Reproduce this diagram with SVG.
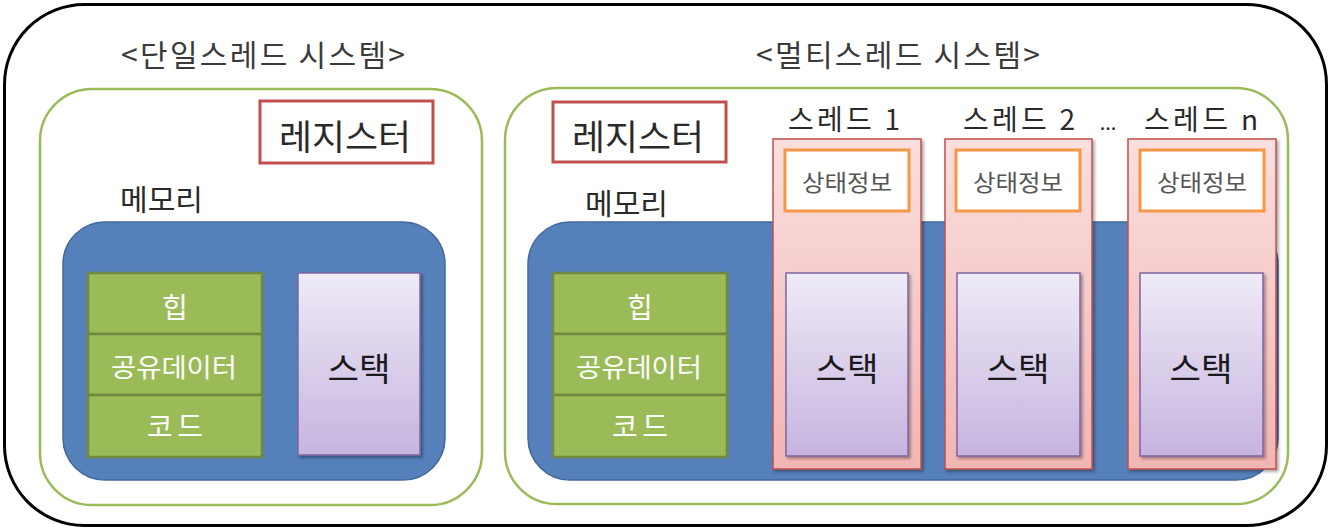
<svg xmlns="http://www.w3.org/2000/svg" width="1342" height="532" viewBox="0 0 1342 532">
<defs>
<linearGradient id="gStack" x1="0" y1="0" x2="0" y2="1">
<stop offset="0" stop-color="#efebf7"/>
<stop offset="1" stop-color="#c6b4df"/>
</linearGradient>
<linearGradient id="gPink" x1="0" y1="0" x2="0" y2="1">
<stop offset="0" stop-color="#f9dfde"/>
<stop offset="1" stop-color="#f2b5b3"/>
</linearGradient>
<filter id="sh" x="-10%" y="-10%" width="130%" height="130%">
<feDropShadow dx="2" dy="2" stdDeviation="1.5" flood-color="#000" flood-opacity="0.35"/>
</filter>
<style>
text{font-family:"Noto Sans CJK KR","Noto Sans",sans-serif;}
.outer{fill:#fff;stroke:#000;stroke-width:3;}
.sys{fill:#fff;stroke:#9bbb59;stroke-width:2.5;}
.mem{fill:#5580b9;stroke:#41689c;stroke-width:1.5;}
.reg{fill:#fff;stroke:#c0504d;stroke-width:3;}
.blk{fill:#9bbb59;stroke:#71893f;stroke-width:2.5;}
.stk{fill:url(#gStack);stroke:#8064a2;stroke-width:1.5;filter:url(#sh);}
.thr{fill:url(#gPink);stroke:#c0504d;stroke-width:1.5;filter:url(#sh);}
.st{fill:#fff;stroke:#f79646;stroke-width:3;}
.title{font-size:30px;fill:#3a3a3a;text-anchor:middle;}
.regt{font-size:35px;fill:#2a2a2a;text-anchor:middle;}
.memt{font-size:29px;fill:#2a2a2a;}
.blkt{font-size:26px;fill:#fff;text-anchor:middle;}
.stkt{font-size:33px;fill:#1a1a1a;text-anchor:middle;}
.stt{font-size:23px;fill:#555;text-anchor:middle;}
.thrt{font-size:28px;fill:#2a2a2a;text-anchor:middle;}
</style>
</defs>

<g id="outer"><rect class="outer" x="4.5" y="4.5" width="1322" height="521" rx="80" ry="80"/></g>

<g id="single-system">
<rect class="sys" x="40" y="89" width="442" height="416" rx="52" ry="52"/>
<text class="title" x="263" y="66" textLength="284" lengthAdjust="spacing">&lt;단일스레드 시스템&gt;</text>
</g>
<g id="single-register">
<rect class="reg" x="260" y="101" width="173" height="62"/>
<text class="regt" x="345" y="150" textLength="132" lengthAdjust="spacingAndGlyphs">레지스터</text>
</g>
<g id="single-memory">
<text class="memt" x="120" y="211" textLength="83" lengthAdjust="spacingAndGlyphs">메모리</text>
<rect class="mem" x="63" y="222" width="382" height="258" rx="42" ry="42"/>
</g>
<g id="single-heap">
<rect class="blk" x="88" y="273" width="174" height="61"/>
<text class="blkt" x="175" y="318" style="font-size:28px">힙</text>
</g>
<g id="single-shared">
<rect class="blk" x="88" y="334" width="174" height="61"/>
<text class="blkt" x="174" y="377" textLength="126" lengthAdjust="spacingAndGlyphs">공유데이터</text>
</g>
<g id="single-code">
<rect class="blk" x="88" y="395" width="174" height="62"/>
<text class="blkt" x="175" y="437" style="font-size:28px" textLength="56" lengthAdjust="spacing">코드</text>
</g>
<g id="single-stack">
<rect class="stk" x="298" y="273" width="122" height="182"/>
<text class="stkt" x="359" y="381" textLength="63" lengthAdjust="spacingAndGlyphs">스택</text>
</g>

<g id="multi-system">
<rect class="sys" x="505" y="88" width="783" height="416" rx="52" ry="52"/>
<text class="title" x="898" y="66" textLength="284" lengthAdjust="spacing">&lt;멀티스레드 시스템&gt;</text>
</g>
<g id="multi-register">
<rect class="reg" x="553" y="102" width="173" height="60"/>
<text class="regt" x="638" y="150" textLength="132" lengthAdjust="spacingAndGlyphs">레지스터</text>
</g>
<g id="multi-memory">
<text class="memt" x="585" y="215" textLength="83" lengthAdjust="spacingAndGlyphs">메모리</text>
<rect class="mem" x="528" y="222" width="750" height="258" rx="42" ry="42"/>
</g>
<g id="multi-heap">
<rect class="blk" x="553" y="273" width="174" height="61"/>
<text class="blkt" x="640" y="318" style="font-size:28px">힙</text>
</g>
<g id="multi-shared">
<rect class="blk" x="553" y="334" width="174" height="61"/>
<text class="blkt" x="639" y="377" textLength="126" lengthAdjust="spacingAndGlyphs">공유데이터</text>
</g>
<g id="multi-code">
<rect class="blk" x="553" y="395" width="174" height="62"/>
<text class="blkt" x="640" y="437" style="font-size:28px" textLength="56" lengthAdjust="spacing">코드</text>
</g>

<g id="thread-1">
<text class="thrt" x="844" y="130" textLength="112" lengthAdjust="spacing">스레드 1</text>
<rect class="thr" x="773" y="139" width="148" height="330"/>
<rect class="st" x="785" y="150" width="124" height="61"/>
<text class="stt" x="847" y="191" textLength="90" lengthAdjust="spacingAndGlyphs">상태정보</text>
<rect class="stk" x="786" y="273" width="122" height="183"/>
<text class="stkt" x="847" y="381" textLength="63" lengthAdjust="spacingAndGlyphs">스택</text>
</g>
<g id="thread-2">
<text class="thrt" x="1019" y="130" textLength="112" lengthAdjust="spacing">스레드 2</text>
<rect class="thr" x="945" y="139" width="147" height="330"/>
<rect class="st" x="956" y="150" width="124" height="61"/>
<text class="stt" x="1018" y="191" textLength="90" lengthAdjust="spacingAndGlyphs">상태정보</text>
<rect class="stk" x="957" y="273" width="123" height="183"/>
<text class="stkt" x="1018" y="381" textLength="63" lengthAdjust="spacingAndGlyphs">스택</text>
</g>
<g id="ellipsis">
<text class="thrt" x="1108" y="130" style="font-size:20px">...</text>
</g>
<g id="thread-n">
<text class="thrt" x="1201" y="130" textLength="114" lengthAdjust="spacing">스레드 n</text>
<rect class="thr" x="1128" y="139" width="148" height="330"/>
<rect class="st" x="1140" y="150" width="124" height="61"/>
<text class="stt" x="1202" y="191" textLength="90" lengthAdjust="spacingAndGlyphs">상태정보</text>
<rect class="stk" x="1140" y="273" width="123" height="183"/>
<text class="stkt" x="1201" y="381" textLength="63" lengthAdjust="spacingAndGlyphs">스택</text>
</g>

<g id="connectors"/>
</svg>
